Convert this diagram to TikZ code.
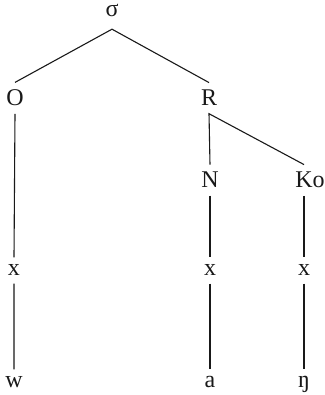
\documentclass[tikz,border=0pt]{standalone}
\usepackage{fontspec}
\setmainfont{Liberation Serif}
\usetikzlibrary{
	positioning,
	calc,
}
\tikzset{seg/.style={
		% The shape:
		rectangle,
		% the gap between letter and line
		inner sep=7.5pt,
		% The text:
		font=\fontsize{24}{28}\selectfont,
		anchor=base,
}}
\tikzset{branch/.style={
		% thin dark line
		line width=1.1pt,draw=black!90,
}}
\begin{document}
\begin{tikzpicture}[x=1pt,y=1pt,text=black!90]
	\useasboundingbox (0,0) rectangle (324,395);
	% syllable and its constituents
	\node [seg, inner ysep=4pt, text depth=8pt] (syl) at (112,378) {σ};
	\node [seg] (onset) at (15,289) {O};
	\node [seg] (rhyme) at (209,289) {R};
	\node [seg] (nucleus) at (210,207) {N};
	\node [seg] (coda) at (304,207) {K\rlap{o}};
	% skeleton slots
	\node [seg] (x1) at (14,119) {x};
	\node [seg] (x2) at (210,119) {x};
	\node [seg] (x3) at (304,119) {x};
	% segments
	\node [seg] (s1) at (14,7) {w};
	\node [seg] (s2) at (210,7) {a};
	\node [seg] (s3) at (304,7) {ŋ};
	\draw [branch] (onset.north) -- (syl.south) -- (rhyme.north);
	\draw [branch] (nucleus.north) -- (rhyme.south) -- (coda.north);
	\foreach \top/\mid/\bot in {onset/x1/s1,nucleus/x2/s2,coda/x3/s3}
		\draw [branch] (\top.south) -- (\mid.north) (\mid.south) -- (\bot.north);
\end{tikzpicture}
\end{document}
